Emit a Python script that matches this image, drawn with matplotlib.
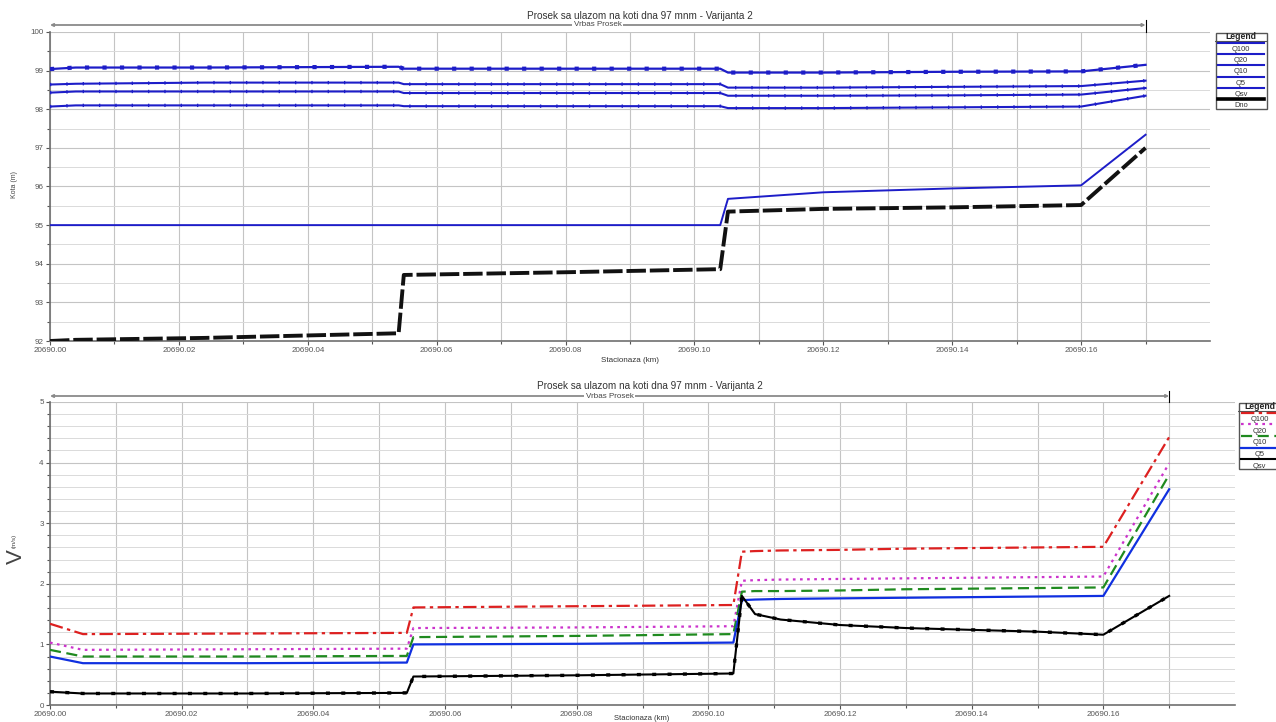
import matplotlib
matplotlib.use("Agg")
import matplotlib.pyplot as plt
import matplotlib.transforms as mtransforms
from matplotlib.ticker import MultipleLocator, FixedLocator, FormatStrFormatter
from matplotlib.patches import Rectangle

plt.rcParams['font.family'] = ['Liberation Sans', 'DejaVu Sans']

# ---------------- data ----------------
base_km = 20690.0
title_text = "Prosek sa ulazom na koti dna 97 mnm - Varijanta 2"
reach_text = "Vrbas Prosek"
xlabel_text = "Stacionaza (km)"
major_ticks = [0.00, 0.02, 0.04, 0.06, 0.08, 0.10, 0.12, 0.14, 0.16]
minor_ticks = [0.01, 0.03, 0.05, 0.07, 0.09, 0.11, 0.13, 0.15, 0.17]

# top panel: water levels (m)
top_st = [0.000, 0.004, 0.024, 0.0541, 0.0549, 0.080, 0.104, 0.1052, 0.120, 0.140, 0.160, 0.170]
top_Q100 = [99.04, 99.08, 99.08, 99.10, 99.05, 99.05, 99.05, 98.95, 98.95, 98.97, 98.98, 99.15]
top_Q20 = [98.64, 98.66, 98.69, 98.69, 98.65, 98.65, 98.65, 98.56, 98.56, 98.58, 98.60, 98.74]
top_Q10 = [98.43, 98.46, 98.46, 98.46, 98.42, 98.42, 98.42, 98.35, 98.35, 98.36, 98.38, 98.55]
top_Q5 = [98.07, 98.10, 98.10, 98.10, 98.08, 98.08, 98.08, 98.03, 98.03, 98.05, 98.07, 98.35]
top_Qsv = [95.00, 95.00, 95.00, 95.00, 95.00, 95.00, 95.00, 95.68, 95.85, 95.95, 96.03, 97.34]
top_Dno = [92.00, 92.03, 92.08, 92.20, 93.71, 93.78, 93.86, 95.35, 95.42, 95.46, 95.52, 97.00]
top_labels = ["Q100", "Q20", "Q10", "Q5", "Qsv", "Dno"]

# bottom panel: velocities (m/s)
bot_st = [0.000, 0.005, 0.030, 0.0542, 0.0552, 0.080, 0.1038, 0.1051, 0.1071, 0.111,
          0.120, 0.130, 0.140, 0.150, 0.160, 0.170]
bot_Q100 = [1.34, 1.17, 1.18, 1.19, 1.61, 1.63, 1.65, 2.53, 2.54, 2.55, 2.56, 2.58, 2.59, 2.60, 2.61, 4.42]
bot_Q20 = [1.03, 0.91, 0.92, 0.93, 1.27, 1.28, 1.30, 2.05, 2.06, 2.07, 2.08, 2.09, 2.10, 2.11, 2.12, 3.99]
bot_Q10 = [0.91, 0.80, 0.80, 0.81, 1.12, 1.14, 1.17, 1.87, 1.88, 1.88, 1.89, 1.91, 1.92, 1.93, 1.94, 3.80]
bot_Q5 = [0.80, 0.69, 0.69, 0.70, 1.00, 1.01, 1.03, 1.73, 1.74, 1.75, 1.76, 1.77, 1.78, 1.79, 1.80, 3.56]
bot_Qsv = [0.22, 0.19, 0.19, 0.20, 0.47, 0.49, 0.52, 1.80, 1.50, 1.41, 1.32, 1.27, 1.24, 1.21, 1.16, 1.80]
bot_labels = ["Q100", "Q20", "Q10", "Q5", "Qsv"]

reach_start, reach_end = 0.0, 0.17

# ---------------- figure ----------------
W, H = 1276, 722
fig = plt.figure(figsize=(W / 100, H / 100), dpi=100)
fig.patch.set_facecolor('white')

def px_axes(l, t, r, b):
    return fig.add_axes([l / W, 1 - b / H, (r - l) / W, (b - t) / H])

ax1 = px_axes(50, 32, 1210, 341)
ax2 = px_axes(50, 402, 1235, 705)

def x(st):
    return [base_km + s for s in st]

def style_axes(ax, ylo, yhi, ymaj, ymin):
    ax.set_xlim(base_km, base_km + 0.18)
    ax.set_ylim(ylo, yhi)
    ax.xaxis.set_major_locator(FixedLocator(x(major_ticks)))
    ax.xaxis.set_minor_locator(FixedLocator(x(minor_ticks)))
    ax.xaxis.set_major_formatter(FormatStrFormatter('%.2f'))
    ax.yaxis.set_major_locator(MultipleLocator(ymaj))
    ax.yaxis.set_minor_locator(MultipleLocator(ymin))
    ax.grid(which='major', color='#c4c4c4', lw=0.8)
    ax.grid(which='minor', axis='x', color='#c4c4c4', lw=0.8)
    ax.grid(which='minor', axis='y', color='#dadada', lw=0.7)
    for s in ['top', 'right']:
        ax.spines[s].set_visible(False)
    for s in ['left', 'bottom']:
        ax.spines[s].set_color('#707070')
        ax.spines[s].set_linewidth(1.2)
    ax.tick_params(which='both', labelsize=5.8, colors='#555555', length=3, width=0.8, pad=1.5)
    ax.tick_params(which='minor', length=2)
    ax.set_axisbelow(True)

style_axes(ax1, 92, 100, 1, 0.5)
style_axes(ax2, 0, 5, 1, 0.2)

blue = '#1d1dc8'
# top panel lines
xs = x(top_st)
ax1.plot(xs, top_Q100, color=blue, lw=1.6, zorder=3)
ax1.plot(xs, top_Q100, color=blue, lw=3.0, dashes=(1.0, 3.2), zorder=3)
for series in [top_Q20, top_Q10, top_Q5]:
    ax1.plot(xs, series, color=blue, lw=1.5, zorder=3)
    ax1.plot(xs, series, color=blue, lw=2.4, dashes=(0.4, 4.5), zorder=3)
ax1.plot(xs, top_Qsv, color=blue, lw=1.4, zorder=3)
ax1.plot(xs, top_Dno, color='#111111', lw=2.8, dashes=(5, 1.0), zorder=4)
ax1.set_xlabel(xlabel_text, fontsize=5.8, color='#333333', labelpad=2)

# bottom panel lines
xb = x(bot_st)
ax2.plot(xb, bot_Q100, color='#dd2020', lw=1.6, dashes=(6, 2, 1.5, 2), zorder=3)
ax2.plot(xb, bot_Q20, color='#cc33cc', lw=1.6, dashes=(1.2, 2.0), zorder=3)
ax2.plot(xb, bot_Q10, color='#1f8a1f', lw=1.6, dashes=(5, 2.5), zorder=3)
ax2.plot(xb, bot_Q5, color='#1030e0', lw=1.6, zorder=3)
ax2.plot(xb, bot_Qsv, color='black', lw=1.5, zorder=4)
ax2.plot(xb, bot_Qsv, color='black', lw=2.4, dashes=(1.2, 3.4), zorder=4)
fig.text(642 / W, 0.5 / H, xlabel_text, ha='center', va='bottom', fontsize=5.5, color='#333333')

# reach arrows and titles
def reach(ax, yf):
    tr = mtransforms.blended_transform_factory(ax.transData, ax.transAxes)
    ax.annotate('', xy=(base_km + reach_start, yf), xytext=(base_km + reach_end, yf),
                xycoords=tr, textcoords=tr, annotation_clip=False,
                arrowprops=dict(arrowstyle='<|-|>', color='#8a8a8a', lw=1.3,
                                mutation_scale=4, shrinkA=0, shrinkB=0))
    ax.plot([base_km + reach_end] * 2, [1.0, yf + 0.017], transform=tr, color='black',
            lw=0.8, clip_on=False)
    ax.text(base_km + (reach_start + reach_end) / 2, yf, reach_text, transform=tr,
            ha='center', va='center', fontsize=5.8, color='#444444',
            bbox=dict(facecolor='white', edgecolor='none', pad=1.0))

reach(ax1, 1 + 7 / 309)
reach(ax2, 1 + 6 / 303)

fig.text(640 / W, 1 - 16 / H, title_text, ha='center', va='center', fontsize=7.2, color='#333333')
fig.text(650 / W, 1 - 386 / H, title_text, ha='center', va='center', fontsize=7.2, color='#333333')

fig.text(14 / W, 1 - 185 / H, "Kota (m)", rotation=90, ha='center', va='center',
         fontsize=5, color='#444444')
fig.text(16 / W, 1 - 557 / H, "V", rotation=90, ha='center', va='center',
         fontsize=16, color='#444444')
fig.text(14 / W, 1 - 541 / H, "(m/s)", rotation=90, ha='center', va='center',
         fontsize=4.5, color='#444444')

# ---------------- legends ----------------
def legend_box(l, t, r, b, entries, row_h, title_h):
    lax = px_axes(l, t, r, b)
    hpx = b - t
    lax.set_xlim(0, r - l)
    lax.set_ylim(hpx, 0)
    lax.axis('off')
    lax.add_patch(Rectangle((0.5, 0.5), r - l - 1, hpx - 1, fill=False,
                            edgecolor='#555555', lw=1.0, clip_on=False))
    lax.text((r - l) / 2, 7.3, "Legend", ha='center', va='baseline',
             fontsize=6.2, fontweight='bold', color='#222222')
    lax.plot([0, r - l], [title_h, title_h], color='#555555', lw=0.8)
    y = title_h
    for label, kw in entries:
        lax.plot([3, r - l - 3], [y + 2.2] * 2, **kw)
        lax.text((r - l) / 2, y + row_h - 1.0, label, ha='center', va='baseline',
                 fontsize=5.4, color='#333333')
        y += row_h
    return lax

top_entries = [
    ("Q100", dict(color=blue, lw=1.5)),
    ("Q20", dict(color=blue, lw=1.5)),
    ("Q10", dict(color=blue, lw=1.5)),
    ("Q5", dict(color=blue, lw=1.5)),
    ("Qsv", dict(color=blue, lw=1.5)),
    ("Dno", dict(color='black', lw=2.6)),
]
lt = legend_box(1215, 32, 1267, 109, top_entries, 11.3, 8.5)

bot_entries = [
    ("Q100", dict(color='#dd2020', lw=1.6, dashes=(6, 2, 1.5, 2))),
    ("Q20", dict(color='#cc33cc', lw=1.6, dashes=(1.2, 2.0))),
    ("Q10", dict(color='#1f8a1f', lw=1.6, dashes=(5, 2.5))),
    ("Q5", dict(color='#1030e0', lw=1.6)),
    ("Qsv", dict(color='black', lw=1.5)),
]
lb = legend_box(1238, 402, 1281, 469, bot_entries, 11.6, 8.5)

fig.savefig("out.png", dpi=100, facecolor='white')
